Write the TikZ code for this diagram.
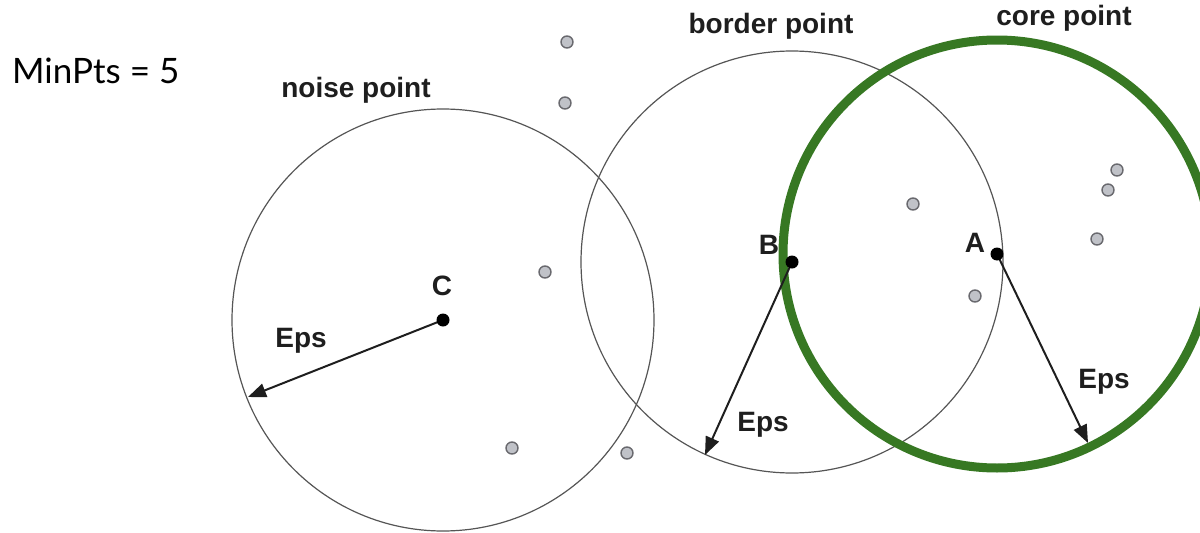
\documentclass[tikz,border=0pt]{standalone}
\usepackage{fontspec}
\setmainfont{Liberation Sans}
\newfontfamily\latofont{Lato}
\usetikzlibrary{arrows.meta}
\definecolor{coregreen}{RGB}{55,120,35}
\definecolor{dotfill}{RGB}{192,194,200}
\definecolor{dotedge}{RGB}{105,105,110}
\definecolor{inkdark}{RGB}{30,30,30}
\definecolor{ringgray}{RGB}{85,85,85}
\tikzset{
  lbl/.style={anchor=base, inner sep=0pt, text=inkdark, font=\fontsize{28}{30}\selectfont\bfseries},
  ring/.style={draw=ringgray, line width=1.2pt},
  corering/.style={draw=coregreen, line width=9pt},
  graydot/.style={circle, fill=dotfill, draw=dotedge, line width=1.4pt, minimum size=12pt, inner sep=0pt},
  blackdot/.style={circle, fill=black, minimum size=13pt, inner sep=0pt},
  epsarrow/.style={draw=inkdark, line width=2pt, -{Triangle[length=18pt,width=14pt]}}
}
\begin{document}
\begin{tikzpicture}[x=1pt,y=-1pt]
\useasboundingbox (0,0) rectangle (1200,533);
% centres
\coordinate (Cc) at (443,320);
\coordinate (Bc) at (792,262);
\coordinate (Ac) at (997,254);
% circles
\draw[ring] (Cc) circle[radius=211pt];
\draw[ring] (Bc) circle[radius=211pt];
\draw[ring] (Ac) circle[radius=211pt];
\draw[corering] (Ac) circle[radius=214pt];
% arrow ends
\coordinate (Cend) at (248,397);
\coordinate (Bend) at (705,455);
\coordinate (Aend) at (1088,443);
\draw[epsarrow] (Cc) -- (Cend);
\draw[epsarrow] (Bc) -- (Bend);
\draw[epsarrow] (Ac) -- (Aend);
% core points
\node[blackdot] (C) at (Cc) {};
\node[blackdot] (B) at (Bc) {};
\node[blackdot] (A) at (Ac) {};
% gray points
\node[graydot] (g1) at (567,42) {};
\node[graydot] (g2) at (565,103) {};
\node[graydot] (g3) at (545,272) {};
\node[graydot] (g4) at (913,204) {};
\node[graydot] (g5) at (975,296) {};
\node[graydot] (g6) at (1117,170) {};
\node[graydot] (g7) at (1108,190) {};
\node[graydot] (g8) at (1097,239) {};
\node[graydot] (g9) at (512,448) {};
\node[graydot] (g10) at (627,453) {};
% labels
\node[lbl] (lnoise) at (356,97) {noise point};
\node[lbl] (lborder) at (771,33) {border point};
\node[lbl] (lcore) at (1064,25) {core point};
\node[lbl] (lC) at (442,295) {C};
\node[lbl] (lB) at (769,254) {B};
\node[lbl] (lA) at (975,252) {A};
\node[lbl] (e1) at (301,347) {Eps};
\node[lbl] (e2) at (763,431) {Eps};
\node[lbl] (e3) at (1104,388) {Eps};
\node[anchor=base west, inner sep=0pt, text=black, font=\latofont\fontsize{35}{38}\selectfont] (minpts) at (12,83) {MinPts = 5};
\end{tikzpicture}
\end{document}
